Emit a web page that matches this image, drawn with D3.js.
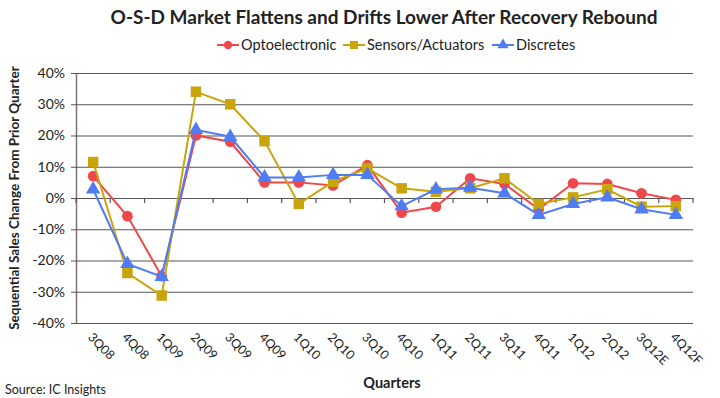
<!DOCTYPE html>
<html>
<head>
<meta charset="utf-8">
<title>O-S-D Market</title>
<style>
  body { margin: 0; background: #fff; }
  text { font-family: Lato, "Open Sans", sans-serif; fill: #222; }
</style>
</head>
<body>
<script src="https://cdn.jsdelivr.net/npm/d3@7"></script>
<script>
var quarters = ["3Q08", "4Q08", "1Q09", "2Q09", "3Q09", "4Q09", "1Q10", "2Q10", "3Q10",
                "4Q10", "1Q11", "2Q11", "3Q11", "4Q11", "1Q12", "2Q12", "3Q12E", "4Q12F"];
var opto = [7, -5.8, -25, 20, 18, 5, 5, 4, 10.5, -4.7, -2.8, 6.3, 4.5, -3.6, 4.7, 4.5, 1.5, -0.6];
var sensors = [11.5, -24, -31.2, 34, 30, 18.2, -1.9, 5.2, 9.5, 3.1, 2, 3.1, 6.3, -1.9, 0.2, 2.8, -2.8, -2.6];
var discretes = [2.8, -21.1, -25.2, 21.8, 19.6, 6.6, 6.6, 7.4, 7.4, -2.6, 2.8, 3.3, 1.5, -5.4, -1.9, 0.2, -3.6, -5.4];
var yTicks = [-40, -30, -20, -10, 0, 10, 20, 30, 40];

var series = [
  { name: "Optoelectronic", values: opto, color: "#f0474a", symbol: d3.symbolCircle, size: 90 },
  { name: "Sensors/Actuators", values: sensors, color: "#c9a40a", symbol: d3.symbolSquare, size: 110 },
  { name: "Discretes", values: discretes, color: "#4f7cf2", symbol: d3.symbolTriangle, size: 90 }
];

var width = 720, height = 398;
var margin = { left: 76, right: 27, top: 73, bottom: 75 };

var svg = d3.select("body").append("svg")
    .attr("width", width)
    .attr("height", height);

var x = d3.scaleBand().domain(quarters).range([margin.left, width - margin.right]);
var y = d3.scaleLinear().domain([-40, 40]).range([height - margin.bottom, margin.top]);

// gridlines + y labels
var yAxis = svg.append("g")
    .attr("transform", "translate(" + margin.left + ",0)")
    .call(d3.axisLeft(y).tickValues(yTicks).tickSize(-(width - margin.left - margin.right)).tickSizeOuter(0)
      .tickFormat(function (d) { return d + "%"; }).tickPadding(11));
yAxis.select(".domain").attr("stroke", "#777").attr("stroke-width", 1.5);
yAxis.selectAll(".tick line").attr("stroke", "#555").attr("stroke-width", 1.2).attr("x1", -5);
yAxis.selectAll(".tick text").style("font-size", "14px").attr("fill", "#333");

// category axis on the zero line
var xAxis = svg.append("g")
    .attr("transform", "translate(0," + y(0) + ")")
    .call(d3.axisBottom(x).tickSize(0).tickFormat(""));
xAxis.select(".domain").attr("stroke", "#555").attr("stroke-width", 1.2);
var bounds = quarters.map(function (q) { return x(q); }).concat([x.range()[1]]);
xAxis.selectAll(".bound").data(bounds).enter().append("line")
    .attr("x1", function (d) { return d; }).attr("x2", function (d) { return d; })
    .attr("y1", 0).attr("y2", 5)
    .attr("stroke", "#555").attr("stroke-width", 1.2);

// rotated quarter labels
svg.append("g").selectAll("text").data(quarters).enter().append("text")
    .attr("transform", function (d) {
      return "translate(" + (x(d) + x.bandwidth() / 2 - 6) + "," + (y(-40) + 15) + ") rotate(45)";
    })
    .style("font-size", "12.5px")
    .attr("fill", "#333")
    .text(function (d) { return d; });

var line = d3.line()
    .x(function (d, i) { return x(quarters[i]) + x.bandwidth() / 2; })
    .y(function (d) { return y(d); });

series.forEach(function (s) {
  svg.append("path")
      .datum(s.values)
      .attr("fill", "none")
      .attr("stroke", s.color)
      .attr("stroke-width", 2)
      .attr("d", line);
  svg.append("g").selectAll("path").data(s.values).enter().append("path")
      .attr("transform", function (d, i) {
        return "translate(" + (x(quarters[i]) + x.bandwidth() / 2) + "," + y(d) + ")";
      })
      .attr("d", d3.symbol().type(s.symbol).size(s.size))
      .attr("fill", s.color);
});

// title
svg.append("text")
    .attr("x", 384).attr("y", 24)
    .attr("text-anchor", "middle")
    .style("font-size", "19px").style("font-weight", "bold")
    .attr("fill", "#111")
    .text("O-S-D Market Flattens and Drifts Lower After Recovery Rebound");

// legend
var legendX = [217, 343, 492];
var legend = svg.append("g").selectAll("g").data(series).enter().append("g")
    .attr("transform", function (d, i) { return "translate(" + legendX[i] + ",45)"; });
legend.append("line")
    .attr("x1", 0).attr("x2", 22).attr("y1", 0).attr("y2", 0)
    .attr("stroke", function (d) { return d.color; }).attr("stroke-width", 2);
legend.append("path")
    .attr("transform", "translate(11,0)")
    .attr("d", function (d) { return d3.symbol().type(d.symbol).size(d.size * 0.6)(); })
    .attr("fill", function (d) { return d.color; });
legend.append("text")
    .attr("x", 24).attr("y", 5)
    .style("font-size", "14.5px")
    .text(function (d) { return d.name; });

// axis titles
svg.append("text")
    .attr("transform", "translate(19," + ((margin.top + height - margin.bottom) / 2) + ") rotate(-90)")
    .attr("text-anchor", "middle")
    .style("font-size", "13.5px").style("font-weight", "bold")
    .text("Sequential Sales Change From Prior Quarter");

svg.append("text")
    .attr("x", 392).attr("y", 388)
    .attr("text-anchor", "middle")
    .style("font-size", "14.5px").style("font-weight", "bold")
    .text("Quarters");

svg.append("text")
    .attr("x", 5).attr("y", 394)
    .style("font-size", "12.5px")
    .attr("fill", "#333")
    .text("Source: IC Insights");
</script>
</body>
</html>
